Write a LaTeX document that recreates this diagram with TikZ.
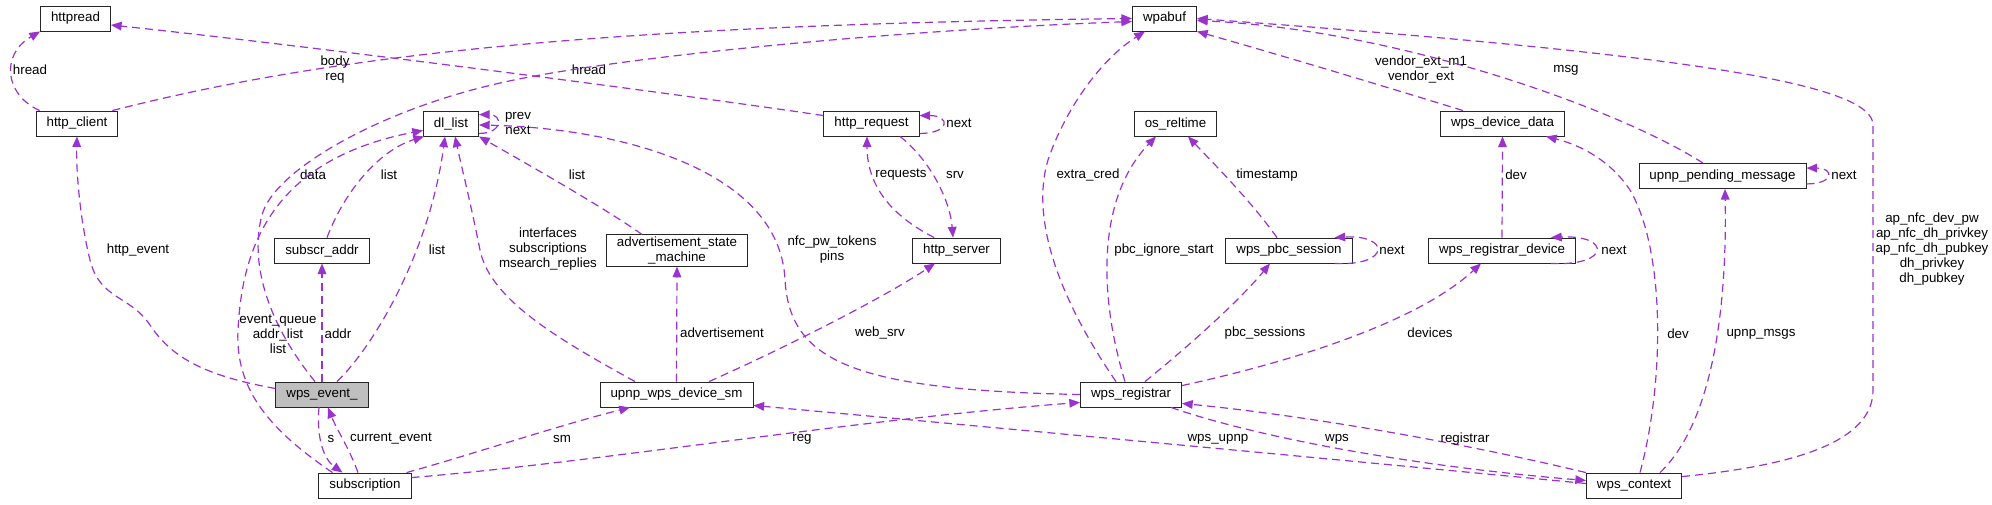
\documentclass[tikz,border=0pt]{standalone}
\usepackage{fontspec}
\setmainfont{Liberation Sans}
\usetikzlibrary{arrows.meta,calc}
\definecolor{usecol}{RGB}{154,50,205}
\definecolor{hilite}{RGB}{191,191,191}
\tikzset{
  cls/.style={draw=black!85, line width=0.65pt, minimum height=18.75pt, inner xsep=7.9pt, inner ysep=1.5pt,
    font=\fontsize{10}{11.25}\selectfont, align=center},
  hl/.style={cls, fill=hilite},
  lbl/.style={inner sep=0pt, font=\fontsize{10}{11.25}\selectfont, align=center},
  usedby/.style={draw=usecol, line width=0.9pt, dash pattern=on 6pt off 3.75pt,
    -{Triangle[length=8pt,width=6.5pt]}},
}
\begin{document}
\begin{tikzpicture}[x=0.75pt, y=-0.75pt]
	\useasboundingbox (0,0) rectangle (1992,504);
	% classes
	\node[cls] (httpread) at (75.5,18.5) {httpread};
	\node[cls] (wpabuf) at (1164.5,18.5) {wpabuf};
	\node[cls] (httpclient) at (77,123.5) {http\_client};
	\node[cls] (dllist) at (451,123.5) {dl\_list};
	\node[cls] (httprequest) at (871.5,123.5) {http\_request};
	\node[cls] (osreltime) at (1175.5,123.5) {os\_reltime};
	\node[cls] (devdata) at (1502.5,123.5) {wps\_device\_data};
	\node[cls] (pendingmsg) at (1722.5,176) {upnp\_pending\_message};
	\node[cls] (subscraddr) at (322,250.5) {subscr\_addr};
	\node[cls] (advsm) at (677,250.5) {advertisement\_state\\\_machine};
	\node[cls] (httpserver) at (956.5,250.5) {http\_server};
	\node[cls] (pbcsession) at (1289,250.5) {wps\_pbc\_session};
	\node[cls] (regdevice) at (1502,250.5) {wps\_registrar\_device};
	\node[hl] (wpsevent) at (322,394.5) {wps\_event\_};
	\node[cls] (upnpsm) at (676.5,394.5) {upnp\_wps\_device\_sm};
	\node[cls] (registrar) at (1131,394.5) {wps\_registrar};
	\node[cls] (subscription) at (365,485.5) {subscription};
	\node[cls] (wpscontext) at (1634,485.5) {wps\_context};

	% left part
	\draw[usedby] ($(httpclient.north west)+(4,0)$) .. controls (5,95) and (0,55) .. (httpread.south west);
	\node[lbl] (lhread) at (30,70) {hread};
	\draw[usedby] ($(httpclient.north east)+(-6,0)$) .. controls (330,55) and (600,25) .. (wpabuf.west);
	\node[lbl] (lbody) at (335,69.5) {body\\req};
	\draw[usedby] ($(httprequest.north west)+(0,5)$) .. controls (650,90) and (300,45) .. ($(httpread.east)+(0,6.5)$);
	\node[lbl] (lhreadb) at (589,70) {hread};
	\draw[usedby] ($(wpsevent.west)+(0,-6)$) .. controls (200,375) and (170,355) .. (150,325)
		.. controls (130,295) and (100,300) .. (90,260) .. controls (80,220) and (76,170) .. (httpclient.south);
	\node[lbl] (lhttpevent) at (138,250) {http\_event};
	\draw[usedby] ($(wpsevent.north)+(-7,0)$) .. controls (265,320) and (250,260) .. (262,215)
		.. controls (274,170) and (380,110) .. (500,83) .. controls (620,56) and (900,30) .. ($(wpabuf.west)+(0,3)$);
	\node[lbl] (ldata) at (313,175) {data};

	% dl_list
	\draw[usedby] ($(dllist.south east)+(0,-3)$) .. controls +(24,0) and +(24,0) .. ($(dllist.north east)+(0,4)$);
	\node[lbl] (lprev) at (518,123) {prev\\next};
	\draw[usedby] ($(subscraddr.north)+(5,0)$) .. controls (345,190) and (380,150) .. ($(dllist.south west)+(1,0)$);
	\node[lbl] (llista) at (389,175) {list};
	\draw[usedby] ($(subscription.north west)+(14,0)$) .. controls (270,430) and (235,390) .. (238,330)
		.. controls (242,250) and (270,160) .. ($(dllist.south west)+(0,-6)$);
	\node[lbl] (lqueue) at (278,334) {event\_queue\\addr\_list\\list};
	\draw[usedby] ($(wpsevent.north)+(15,0)$) .. controls (375,345) and (430,250) .. ($(dllist.south)+(-6,0)$);
	\node[lbl] (llistb) at (437,250) {list};
	\draw[usedby] ($(upnpsm.north)+(-41.5,0)$) .. controls (560,340) and (490,300) .. (480,250)
		.. controls (470,200) and (460,160) .. ($(dllist.south)+(4,0)$);
	\node[lbl] (lifaces) at (548,249) {interfaces\\subscriptions\\msearch\_replies};
	\draw[usedby] ($(advsm.north)+(-35,0)$) .. controls (600,205) and (520,160) .. (dllist.south east);
	\node[lbl] (llistc) at (577,175) {list};
	\draw[usedby] (registrar.west) .. controls (850,390) and (790,360) .. (785,280)
		.. controls (780,170) and (620,128) .. ($(dllist.east)+(0,1.5)$);
	\node[lbl] (lpins) at (832,249.5) {nfc\_pw\_tokens\\pins};

	% http
	\draw[usedby] ($(httprequest.south east)+(0,-3)$) .. controls +(31,0) and +(31,0) .. ($(httprequest.north east)+(0,5)$);
	\node[lbl] (lnexta) at (959,123.5) {next};
	\draw[usedby] ($(httpserver.north west)+(22,0)$) .. controls (880,210) and (867,175) .. ($(httprequest.south)+(-4.5,0)$);
	\node[lbl] (lrequests) at (901,175) {requests};
	\draw[usedby] ($(httprequest.south)+(28.5,0)$) .. controls (930,160) and (950,200) .. ($(httpserver.north)+(-3.5,0)$);
	\node[lbl] (lsrv) at (955,175) {srv};

	% wps_event_ and subscription
	\draw[usedby] (wpsevent.north) -- (subscraddr.south);
	\node[lbl] (laddr) at (338,334) {addr};
	\draw[usedby] ($(wpsevent.south)+(-3,0)$) .. controls (316,440) and (325,460) .. ($(subscription.north west)+(24,0)$);
	\node[lbl] (ls) at (331,439) {s};
	\draw[usedby] ($(subscription.north)+(-7,0)$) .. controls (350,450) and (336,428) .. ($(wpsevent.south)+(6,0)$);
	\node[lbl] (lcurrent) at (391,439) {current\_event};
	\draw[usedby] ($(subscription.north east)+(-5,0)$) .. controls (470,455) and (560,425) .. ($(upnpsm.south)+(-46.5,0)$);
	\node[lbl] (lsm) at (562,439) {sm};
	\draw[usedby] ($(subscription.north east)+(0,5)$) .. controls (600,462) and (850,420) .. ($(registrar.south west)+(0,-5)$);
	\node[lbl] (lreg) at (802,439) {reg};

	% upnp_wps_device_sm
	\draw[usedby] (upnpsm.north) -- (advsm.south);
	\node[lbl] (ladv) at (722,333) {advertisement};
	\draw[usedby] ($(upnpsm.north)+(32.5,0)$) .. controls (780,350) and (880,300) .. ($(httpserver.south)+(-21.5,0)$);
	\node[lbl] (lwebsrv) at (880,333) {web\_srv};

	% wps_registrar
	\draw[usedby] ($(registrar.north)+(-15,0)$) .. controls (1060,300) and (1030,220) .. (1048,160)
		.. controls (1065,110) and (1100,60) .. ($(wpabuf.south)+(-19.5,0)$);
	\node[lbl] (lextra) at (1088,175) {extra\_cred};
	\draw[usedby] ($(registrar.north)+(-6,0)$) .. controls (1100,300) and (1095,200) .. ($(osreltime.south)+(-19.5,0)$);
	\node[lbl] (lignore) at (1164,250) {pbc\_ignore\_start};
	\draw[usedby] ($(registrar.north)+(14,0)$) .. controls (1190,345) and (1240,300) .. ($(pbcsession.south)+(-19,0)$);
	\node[lbl] (lpbcs) at (1265,333) {pbc\_sessions};
	\draw[usedby] ($(registrar.north east)+(0,4)$) .. controls (1300,360) and (1420,320) .. ($(regdevice.south)+(-21,0)$);
	\node[lbl] (ldevices) at (1430,333) {devices};
	\draw[usedby] ($(pbcsession.north)+(-12,0)$) .. controls (1250,200) and (1215,165) .. ($(osreltime.south)+(12.5,0)$);
	\node[lbl] (ltime) at (1267,175) {timestamp};
	\draw[usedby] ($(pbcsession.south east)+(-18,0)$) .. controls +(56,3) and +(56,-3) .. ($(pbcsession.north east)+(-18,0)$);
	\node[lbl] (lnextb) at (1392,250) {next};
	\draw[usedby] (regdevice.north) -- (devdata.south);
	\node[lbl] (ldeva) at (1516,175) {dev};
	\draw[usedby] ($(regdevice.south east)+(-25,0)$) .. controls +(60,3) and +(60,-3) .. ($(regdevice.north east)+(-25,0)$);
	\node[lbl] (lnextc) at (1614,250) {next};
	\draw[usedby] ($(devdata.north)+(-39.5,0)$) .. controls (1380,85) and (1280,55) .. (wpabuf.south east);
	\node[lbl] (lvendor) at (1421,69.5) {vendor\_ext\_m1\\vendor\_ext};

	% wps_context
	\draw[usedby] ($(wpscontext.west)+(0,-2)$) .. controls (1300,456) and (1000,428) .. ($(upnpsm.south east)+(0,-2)$);
	\node[lbl] (lwpsupnp) at (1218,439) {wps\_upnp};
	\draw[usedby] ($(registrar.south east)+(-11,0)$) .. controls (1250,435) and (1400,465) .. ($(wpscontext.west)+(0,-5)$);
	\node[lbl] (lwps) at (1337,439) {wps};
	\draw[usedby] (wpscontext.north west) .. controls (1450,440) and (1300,415) .. ($(registrar.south east)+(0,-4)$);
	\node[lbl] (lregistrar) at (1465,439) {registrar};
	\draw[usedby] ($(wpscontext.north)+(6,0)$) .. controls (1665,380) and (1665,250) .. (1630,190)
		.. controls (1610,160) and (1580,145) .. ($(devdata.south east)+(-19,0)$);
	\node[lbl] (ldevb) at (1678,334) {dev};
	\draw[usedby] ($(wpscontext.north)+(26,0)$) .. controls (1715,420) and (1727,300) .. ($(pendingmsg.south)+(2.5,0)$);
	\node[lbl] (lmsgs) at (1761,334) {upnp\_msgs};
	\draw[usedby] ($(pendingmsg.south east)+(0,-5)$) .. controls +(28,0) and +(28,0) .. ($(pendingmsg.north east)+(0,5)$);
	\node[lbl] (lnextd) at (1844,175) {next};
	\draw[usedby] ($(pendingmsg.north)+(-19.5,0)$) .. controls (1620,110) and (1400,30) .. ($(wpabuf.east)+(0,2)$);
	\node[lbl] (lmsg) at (1566,70) {msg};
	\draw[usedby] ($(wpscontext.north east)+(0,4)$) .. controls (1800,465) and (1873,440) .. (1873,390)
		-- (1873,125) .. controls (1873,85) and (1700,55) .. (wpabuf.east);
	\node[lbl] (lkeys) at (1932,249.5) {ap\_nfc\_dev\_pw\\ap\_nfc\_dh\_privkey\\ap\_nfc\_dh\_pubkey\\dh\_privkey\\dh\_pubkey};
\end{tikzpicture}
\end{document}
